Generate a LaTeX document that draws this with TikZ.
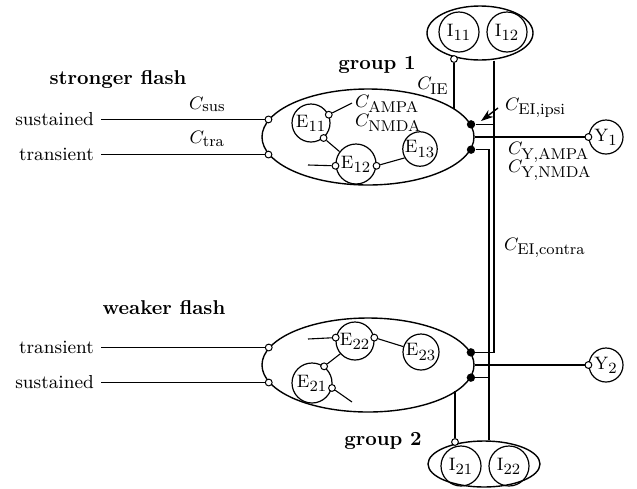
\documentclass[tikz,border=0pt]{standalone}
\usepackage{amsmath}
\usetikzlibrary{arrows.meta,shapes.geometric}
\tikzset{
  cell/.style    = {circle,draw,line width=0.6pt,minimum size=19pt,inner sep=0pt},
  grpell/.style  = {ellipse,draw,line width=0.7pt,inner sep=0pt},
  exc/.style     = {circle,draw,fill=white,line width=0.5pt,minimum size=3.4pt,inner sep=0pt},
  inh/.style     = {circle,fill=black,minimum size=4.2pt,inner sep=0pt},
  wire/.style    = {line width=0.55pt},
  inwire/.style  = {line width=0.9pt},
  ptr/.style     = {-{Stealth[length=2.2mm,width=1.5mm]},line width=0.7pt},
  heading/.style = {font=\fontsize{10}{12}\selectfont\bfseries}
}
\newcommand{\nrn}[2]{$\mathrm{#1}_{\mbox{\fontsize{7.8}{9}\selectfont #2}}$}
\newcommand{\cw}[1]{$C_{\mbox{\fontsize{7.8}{9}\selectfont #1}}$}

\begin{document}
\begin{tikzpicture}[x=0.5pt,y=-0.5pt,font=\fontsize{9.4}{11}\selectfont]
  \useasboundingbox (0,0) rectangle (637,488);
  \coordinate (lx) at (101,0);
  \coordinate (ja) at (494,0);
  \coordinate (jb) at (489,0);

  \node[grpell,minimum width=106pt,minimum height=48pt] (g1) at (368,137) {};
  \node[grpell,minimum width=106pt,minimum height=47pt] (g2) at (368,365) {};
  \node[grpell,minimum width=53pt,minimum height=27pt]  (i1) at (480,33)  {};
  \node[grpell,minimum width=56pt,minimum height=23pt]  (i2) at (484,464) {};

  \node[cell]                   (e11) at (311,123) {\nrn{E}{11}};
  \node[cell,minimum size=20pt] (e12) at (356,164) {\nrn{E}{12}};
  \node[cell,minimum size=17pt] (e13) at (420,149) {\nrn{E}{13}};
  \node[cell,minimum size=20pt] (e21) at (312,383) {\nrn{E}{21}};
  \node[cell]                   (e22) at (355,341) {\nrn{E}{22}};
  \node[cell,minimum size=18pt] (e23) at (421,352) {\nrn{E}{23}};
  \node[cell,minimum size=20pt] (i11) at (459,32)  {\nrn{I}{11}};
  \node[cell,minimum size=20pt] (i12) at (507,32)  {\nrn{I}{12}};
  \node[cell,minimum size=20pt] (i21) at (461,466) {\nrn{I}{21}};
  \node[cell,minimum size=20pt] (i22) at (509,466) {\nrn{I}{22}};
  \node[cell,minimum size=17pt] (y1)  at (606,137) {\nrn{Y}{1}};
  \node[cell,minimum size=17pt] (y2)  at (606,365) {\nrn{Y}{2}};

  \node[exc] (ss1)  at (g1.170) {};
  \node[exc] (st1)  at (g1.190) {};
  \node[exc] (st2)  at (g2.170) {};
  \node[exc] (ss2)  at (g2.190) {};
  \node[exc] (s11a) at (e11.25)  {};
  \node[exc] (s11b) at (e11.-50) {};
  \node[exc] (s12a) at (e12.185) {};
  \node[exc] (s12b) at (e12.-5)  {};
  \node[exc] (s22a) at (e22.170) {};
  \node[exc] (s22b) at (e22.10)  {};
  \node[exc] (s21a) at (e21.54)  {};
  \node[exc] (s21b) at (e21.-14) {};
  \node[exc] (ie1)  at (454,59)  {};
  \node[exc] (ie2)  at (455,442) {};
  \node[exc] (y1s)  at (y1.west) {};
  \node[exc] (y2s)  at (y2.west) {};
  \node[inh] (d1a)  at (g1.7)  {};
  \node[inh] (d1b)  at (g1.-7) {};
  \node[inh] (d2a)  at (g2.7)  {};
  \node[inh] (d2b)  at (g2.-7) {};

  \node[heading] (hs)  at (118,80)  {stronger flash};
  \node[heading] (hw)  at (164,308) {weaker flash};
  \node[heading] (hg1) at (377,65)  {group 1};
  \node[heading] (hg2) at (383,441) {group 2};

  \node[anchor=east] (sus1) at (ss1 -| lx) {sustained};
  \node[anchor=east] (tra1) at (st1 -| lx) {transient};
  \node[anchor=east] (tra2) at (st2 -| lx) {transient};
  \node[anchor=east] (sus2) at (ss2 -| lx) {sustained};
  \draw[inwire] (sus1) -- node[above,pos=0.65] {\cw{sus}} (ss1);
  \draw[inwire] (tra1) -- node[above,pos=0.65] {\cw{tra}} (st1);
  \draw[inwire] (tra2) -- (st2);
  \draw[inwire] (sus2) -- (ss2);

  \node[anchor=west] (ampa) at (348,104) {\cw{AMPA}};
  \node[anchor=west] (nmda) at (348,123) {\cw{NMDA}};
  \coordinate (am)     at (352,103);
  \coordinate (e12in)  at (308,165);
  \coordinate (e22in)  at (308,339);
  \coordinate (e21out) at (352,402);
  \draw[wire] (s11a) -- (am);
  \draw[wire] (s11b) -- (e12.143);
  \draw[wire] (e12in) -- (s12a);
  \draw[wire] (s12b) -- (e13.210);
  \draw[wire] (e22in) -- (s22a);
  \draw[wire] (s22b) -- (e23.163);
  \draw[wire] (s21a) -- (e22.221);
  \draw[wire] (s21b) -- (e21out);

  \node (cie) at (433,86) {\cw{IE}};
  \draw[wire] (ie1) -- (ie1 |- g1.18);
  \draw[wire] (ie2) -- (ie2 |- g2.-16.5);
  \draw[wire] (ja |- i1.south) -- (ja |- d2a) -- (d2a);
  \draw[wire] (d1a) -- (d1a -| ja);
  \draw[wire] (d1b) -- (d1b -| jb) -- (jb |- i2.north);
  \draw[wire] (d2b) -- (d2b -| jb);
  \draw[wire] (g1.east) -- (y1s);
  \draw[wire] (g2.east) -- (y2s);

  \node[anchor=west] (ipsi)   at (498,108) {\cw{EI,ipsi}};
  \node[anchor=west] (yam)    at (501,152) {\cw{Y,AMPA}};
  \node[anchor=west] (ynm)    at (501,170) {\cw{Y,NMDA}};
  \node[anchor=west] (contra) at (497,248) {\cw{EI,contra}};
  \coordinate (ipt) at (481,121);
  \draw[ptr] (ipsi.west) -- (ipt);
\end{tikzpicture}
\end{document}
